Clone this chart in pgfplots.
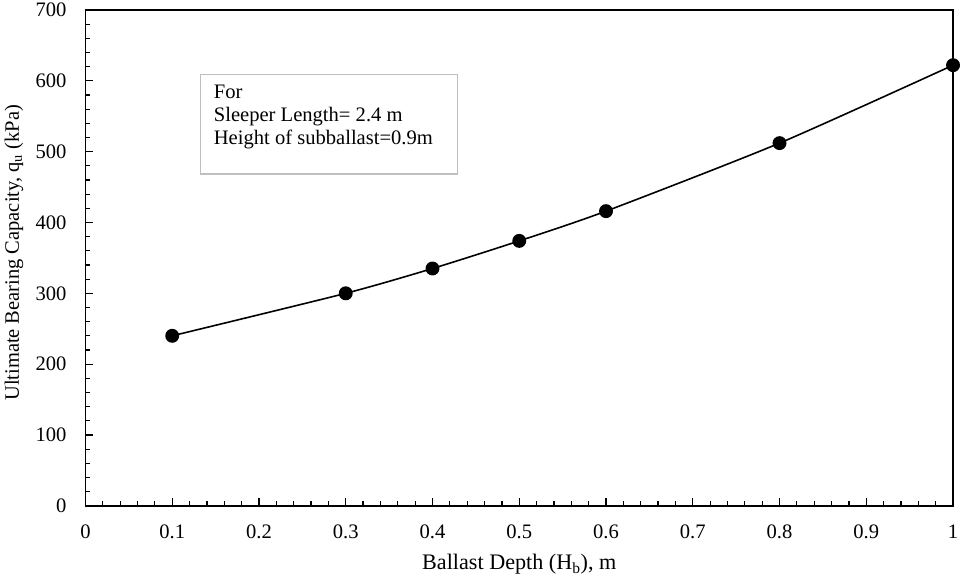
\documentclass[border=0pt]{standalone}
\usepackage{pgfplots}
\pgfplotsset{compat=1.18}
\usepackage{fontspec}
\setmainfont{Liberation Serif}
\begin{document}
\fontsize{20.7}{24}\selectfont
\begin{tikzpicture}
\begin{axis}[
  scale only axis,
  width=873pt, height=499pt,
  xmin=0, xmax=1, ymin=0, ymax=700,
  xtick={0,0.1,...,1.0},
  ytick={0,100,...,700},
  minor x tick num=4,
  minor y tick num=4,
  tick align=inside,
  xtick pos=bottom, ytick pos=left,
  major tick length=8pt, minor tick length=5pt,
  axis line style={line width=1.5pt},
  every tick/.style={black, line width=1.2pt},
  /pgf/number format/assume math mode=true,
  tick label style={font=\fontsize{20.7}{24}\selectfont},
  xticklabel style={/pgf/number format/fixed, /pgf/number format/precision=1, yshift=-12pt},
  yticklabel style={xshift=-12pt},
  xticklabel={\pgfmathprintnumber{\tick}},
  xlabel={Ballast Depth (H\textsubscript{b}), m},
  ylabel={Ultimate Bearing Capacity, q\textsubscript{u} (kPa)},
  xlabel style={font=\fontsize{22.3}{26}\selectfont, at={([yshift=-64pt]axis description cs:0.5,0)}, anchor=base},
  ylabel style={font=\fontsize{20.6}{24}\selectfont, at={([xshift=-67pt]axis description cs:0,0.51)}, anchor=base, rotate=0},
  clip=false,
]
\addplot[black, line width=1.6pt, smooth, tension=0.4, mark=*, mark size=6.2pt]
  coordinates {(0.1,240) (0.3,300) (0.4,335) (0.5,374) (0.6,416) (0.8,512) (1.0,622)};
\draw[black!25, line width=1.2pt, fill=white] (axis cs:0.1329,608.8) rectangle (axis cs:0.4284,468.5);
\node[anchor=north west, align=left, inner sep=0pt, font=\fontsize{20.7}{23.5}\selectfont] at (axis cs:0.1478,594.8)
  {For\\Sleeper Length= 2.4 m\\Height of subballast=0.9m};
\end{axis}
\pgfresetboundingbox
\path[use as bounding box] ([xshift=-86pt,yshift=-70pt]current axis.south west) rectangle ([xshift=7pt,yshift=10pt]current axis.north east);
\end{tikzpicture}
\end{document}
